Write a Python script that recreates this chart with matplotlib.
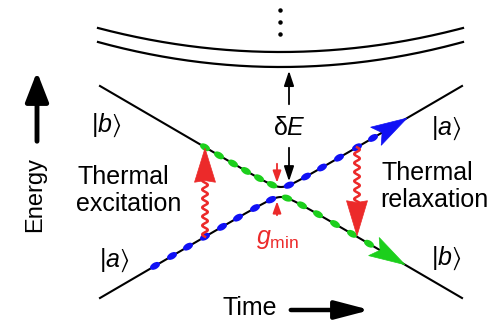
import numpy as np
import matplotlib
matplotlib.use("Agg")
import matplotlib.pyplot as plt
from matplotlib.patches import Polygon, Ellipse

plt.rcParams['font.family'] = ['Liberation Sans', 'DejaVu Sans']
plt.rcParams['mathtext.fontset'] = 'custom'
plt.rcParams['mathtext.rm'] = 'Liberation Sans'
plt.rcParams['mathtext.it'] = 'Liberation Sans:italic'
plt.rcParams['mathtext.fallback'] = 'stixsans'

# avoided crossing, drawn in picture units (x = time, y = energy, y grows downward)
t_cross = 281
e_cross = 192
slope = 0.585
half_gap = 5
t_range = [100, 462]

# the two higher bands at the top
band_t = [98, 463]
band_edge_e = [28, 42]
band_mid_e = [52, 67]

# sample points riding along the diabatic states
green_t = [205, 219, 233, 246, 259, 272, 287, 302, 318, 335, 352, 369]
blue_t = [155, 172, 188, 205, 222, 238, 255, 271, 289, 306, 322, 339, 357, 373]
blue_tip_t = 407
green_tip_t = 405

excite_t = 205
relax_t = 357

GREEN = '#1ccf1c'
BLUE = '#1010f5'
RED = '#ec2a2a'


def upper(t):
    return e_cross - np.sqrt((slope * (np.asarray(t) - t_cross)) ** 2 + half_gap ** 2)


def lower(t):
    return e_cross + np.sqrt((slope * (np.asarray(t) - t_cross)) ** 2 + half_gap ** 2)


def head(ax, tip, back, width, color, notch=0.2):
    tip = np.array(tip, float)
    back = np.array(back, float)
    d = tip - back
    L = np.hypot(*d)
    u = d / L
    n = np.array([-u[1], u[0]])
    pts = [tip, back + n * width / 2, back + u * L * notch, back - n * width / 2]
    ax.add_patch(Polygon(pts, closed=True, facecolor=color, edgecolor=color, lw=0.5, zorder=5))


def dot(ax, t, e, tang, color):
    ax.add_patch(Ellipse((t, e), 11, 6.5, angle=np.degrees(np.arctan(tang)), facecolor=color,
                         edgecolor='none', zorder=4))


fig = plt.figure(figsize=(4.95, 3.2), dpi=100)
ax = fig.add_axes([0, 0, 1, 1])
ax.set_xlim(0, 495)
ax.set_ylim(320, 0)
ax.axis('off')

# bands
tb = np.linspace(band_t[0], band_t[1], 200)
tc = (band_t[0] + band_t[1]) / 2
for edge, mid in zip(band_edge_e, band_mid_e):
    a = (mid - edge) / ((band_t[1] - tc) ** 2)
    ax.plot(tb, mid - a * (tb - tc) ** 2, color='black', lw=1.6)
ax.plot([tc - 1] * 3, [10, 22, 34], 'o', color='black', ms=2.2)

# energy levels
tt = np.linspace(t_range[0], t_range[1], 600)
ax.plot(tt, upper(tt), color='black', lw=1.5, zorder=3)
ax.plot(tt, lower(tt), color='black', lw=1.5, zorder=3)


def slope_at(t, branch):
    h = 0.5
    return (branch(t + h) - branch(t - h)) / (2 * h)


for t in green_t:
    br = upper if t < t_cross else lower
    dot(ax, t, br(t), slope_at(t, br), GREEN)
for t in blue_t:
    br = lower if t < t_cross else upper
    dot(ax, t, br(t), slope_at(t, br), BLUE)

# arrow heads following the states
for tip_t, br, col in [(blue_tip_t, upper, BLUE), (green_tip_t, lower, GREEN)]:
    tip = (tip_t, br(tip_t))
    s = slope_at(tip_t, br)
    u = np.array([1, s]) / np.hypot(1, s)
    back = np.array(tip) - u * 36
    head(ax, tip, back, 21, col)


def wavy(ax, t, y0, y1, color):
    y = np.linspace(y0, y1, 200)
    x = t + 2.8 * np.sin(2 * np.pi * (y - y0) / 9.0)
    ax.plot(x, y, color=color, lw=1.8, zorder=5)


# thermal excitation
e_lo = float(lower(excite_t))
e_up = float(upper(excite_t))
wavy(ax, excite_t, e_lo, e_up + 33, RED)
head(ax, (excite_t, e_up + 1), (excite_t, e_up + 35), 21, RED, notch=0.05)

# thermal relaxation
e_up2 = float(upper(relax_t))
e_lo2 = float(lower(relax_t))
wavy(ax, relax_t, e_up2, e_lo2 - 34, RED)
head(ax, (relax_t, e_lo2 - 1), (relax_t, e_lo2 - 36), 21, RED, notch=0.05)

# delta E arrows
ax.annotate('', xy=(289, band_mid_e[1] + 1), xytext=(289, 107),
            arrowprops=dict(arrowstyle='-|>,head_length=0.9,head_width=0.3', color='black', lw=1.3))
ax.annotate('', xy=(289, upper(289) - 1), xytext=(289, 145),
            arrowprops=dict(arrowstyle='-|>,head_length=0.9,head_width=0.3', color='black', lw=1.3))
ax.text(289, 135, r'δ$E$', fontsize=18, ha='center', va='baseline')

# g_min arrows
ax.annotate('', xy=(277, upper(277) - 1), xytext=(277, 161),
            arrowprops=dict(arrowstyle='-|>,head_length=0.7,head_width=0.25', color=RED, lw=1.3))
ax.annotate('', xy=(277, lower(277) + 1), xytext=(277, 218),
            arrowprops=dict(arrowstyle='-|>,head_length=0.7,head_width=0.25', color=RED, lw=1.3))
ax.text(277, 244, r'$g_{\mathrm{min}}$', fontsize=18, color=RED, ha='center', va='baseline')

# kets
ax.text(106, 132, r'$|b\rangle$', fontsize=18, ha='center', va='baseline')
ax.text(114, 267, r'$|a\rangle$', fontsize=18, ha='center', va='baseline')
ax.text(446, 135, r'$|a\rangle$', fontsize=18, ha='center', va='baseline')
ax.text(446, 265, r'$|b\rangle$', fontsize=18, ha='center', va='baseline')

# labels
ax.text(77, 184, 'Thermal', fontsize=18, ha='left', va='baseline')
ax.text(76, 211, 'excitation', fontsize=18, ha='left', va='baseline')
ax.text(381, 180, 'Thermal', fontsize=18, ha='left', va='baseline')
ax.text(380, 207, 'relaxation', fontsize=18, ha='left', va='baseline')

# axes arrows
ax.text(35, 194, 'Energy', fontsize=17, rotation=90, ha='center', va='center')
ax.annotate('', xy=(37, 69), xytext=(37, 144),
            arrowprops=dict(arrowstyle='-|>,head_length=1.8,head_width=0.7', color='black', lw=3.5))
ax.text(250, 315, 'Time', fontsize=18, ha='center', va='baseline')
ax.annotate('', xy=(373, 310), xytext=(288, 310),
            arrowprops=dict(arrowstyle='-|>,head_length=2.1,head_width=0.55', color='black', lw=3.2))

fig.savefig('out.png', dpi=100)
